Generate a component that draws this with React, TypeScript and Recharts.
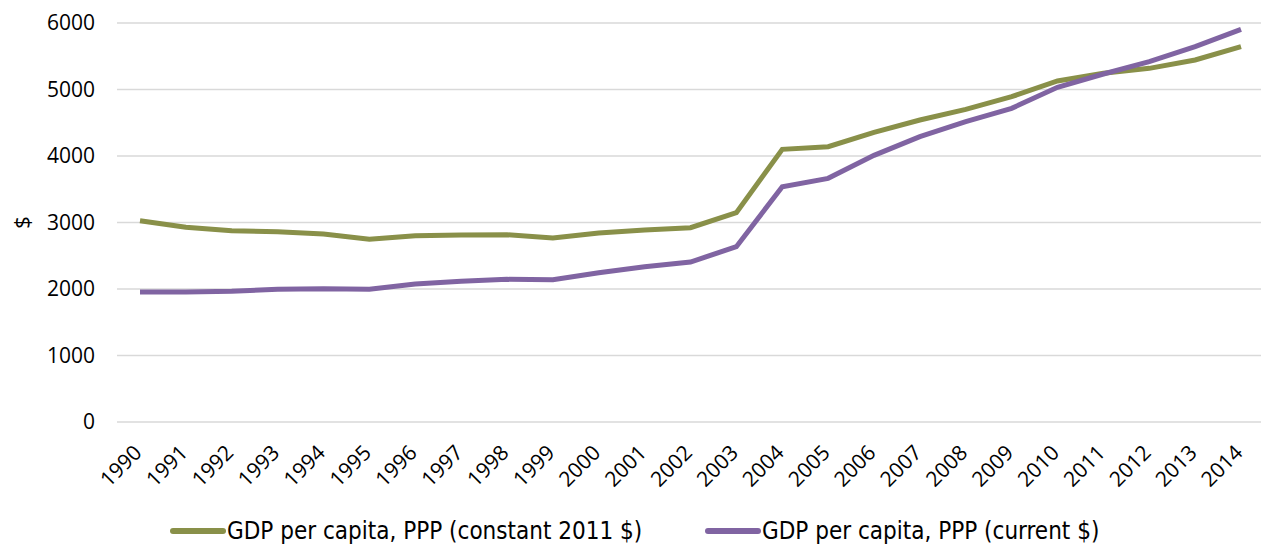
import { LineChart, Line, XAxis, YAxis, CartesianGrid } from "recharts";

const years = [
  "1990", "1991", "1992", "1993", "1994", "1995", "1996", "1997", "1998",
  "1999", "2000", "2001", "2002", "2003", "2004", "2005", "2006", "2007",
  "2008", "2009", "2010", "2011", "2012", "2013", "2014",
];
const constant2011 = [
  3027, 2930, 2877, 2862, 2827, 2747, 2802, 2812, 2817, 2767, 2842, 2887,
  2922, 3147, 4100, 4140, 4356, 4541, 4702, 4892, 5128, 5243, 5318, 5444, 5644,
];
const current = [
  1955, 1955, 1965, 1995, 2005, 1995, 2075, 2115, 2145, 2140, 2245, 2335,
  2406, 2636, 3538, 3664, 4010, 4291, 4516, 4717, 5033, 5233, 5418, 5644, 5905,
];
const yTicks = [0, 1000, 2000, 3000, 4000, 5000, 6000];

const seriesNames = [
  "GDP per capita, PPP (constant 2011 $)",
  "GDP per capita, PPP (current $)",
];
const GREEN = "#899049";
const PURPLE = "#8064a2";
const TICK_FONT = "'Open Sans', sans-serif";
const LEGEND_FONT = "'DejaVu Sans Condensed', 'DejaVu Sans', sans-serif";

const data = years.map((year, i) => ({
  year,
  constant: constant2011[i],
  current: current[i],
}));

function YearTick({ x, y, payload }: any) {
  const ax = x + 3;
  const ay = y + 30;
  return (
    <text
      x={ax}
      y={ay}
      transform={`rotate(-45, ${ax}, ${ay})`}
      textAnchor="end"
      fontFamily={TICK_FONT}
      fontSize={21}
      fill="#000"
    >
      {payload.value}
    </text>
  );
}

function LegendItem({ left, color, label }: { left: number; color: string; label: string }) {
  return (
    <div
      style={{
        position: "absolute",
        left,
        top: 516,
        display: "flex",
        alignItems: "center",
        fontFamily: LEGEND_FONT,
        fontSize: 24,
        lineHeight: "30px",
        color: "#000",
        whiteSpace: "nowrap",
      }}
    >
      <span
        style={{
          display: "inline-block",
          width: 56,
          height: 6,
          borderRadius: 3,
          background: color,
        }}
      />
      <span style={{ marginLeft: 1 }}>{label}</span>
    </div>
  );
}

export default function App() {
  return (
    <div style={{ position: "absolute", left: 0, top: 0, width: 1261, height: 546, background: "#fff" }}>
      <LineChart
        width={1261}
        height={546}
        data={data}
        margin={{ top: 23, right: 0, left: 0, bottom: 0 }}
      >
        <CartesianGrid vertical={false} stroke="#d9d9d9" strokeWidth={1.5} />
        <XAxis
          dataKey="year"
          axisLine={false}
          tickLine={false}
          tickSize={0}
          interval={0}
          height={124}
          padding={{ left: 23, right: 20 }}
          tick={<YearTick />}
        />
        <YAxis
          domain={[0, 6000]}
          ticks={yTicks}
          axisLine={false}
          tickLine={false}
          tickSize={0}
          tickMargin={22}
          width={117}
          tick={{ fontFamily: TICK_FONT, fontSize: 21, fill: "#000" }}
          label={{
            value: "$",
            angle: -90,
            position: "insideLeft",
            offset: 22,
            style: { fontFamily: TICK_FONT, fontSize: 22, fill: "#000", textAnchor: "middle" },
          }}
        />
        <Line
          dataKey="constant"
          name={seriesNames[0]}
          stroke={GREEN}
          strokeWidth={5}
          dot={false}
          isAnimationActive={false}
        />
        <Line
          dataKey="current"
          name={seriesNames[1]}
          stroke={PURPLE}
          strokeWidth={5}
          dot={false}
          isAnimationActive={false}
        />
      </LineChart>
      <LegendItem left={170} color={GREEN} label={seriesNames[0]} />
      <LegendItem left={705} color={PURPLE} label={seriesNames[1]} />
    </div>
  );
}
